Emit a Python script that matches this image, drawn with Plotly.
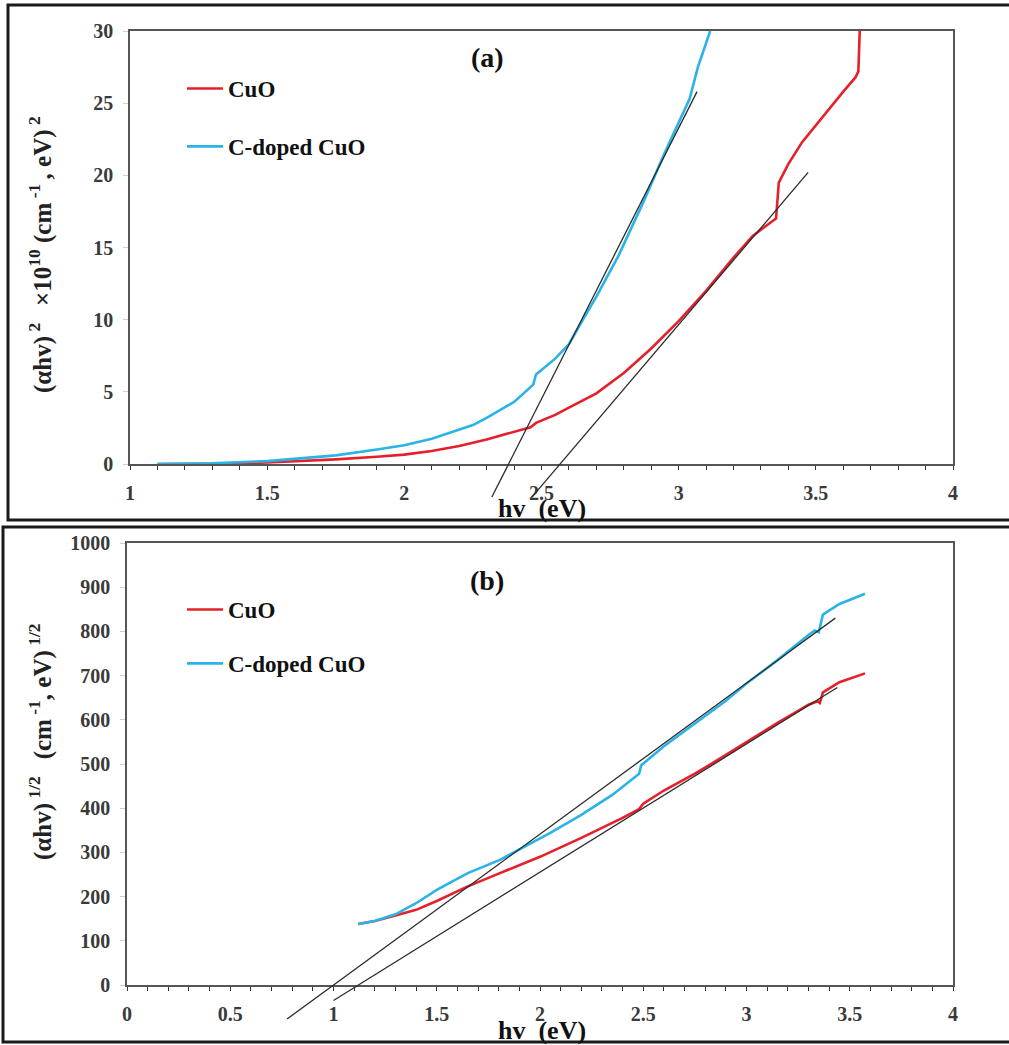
import plotly.graph_objects as go

# ---------------- data: panel (a)  (αhν)^2 ×10^10 vs hν ----------------
hv_cuo_a = [1.10, 1.30, 1.50, 1.60, 1.75, 1.90, 2.00, 2.10, 2.20, 2.30, 2.40, 2.46, 2.48,
            2.55, 2.60, 2.70, 2.80, 2.90, 3.00, 3.10, 3.20, 3.27, 3.34, 3.355, 3.365,
            3.40, 3.45, 3.505, 3.55, 3.60, 3.645, 3.655, 3.66]
val_cuo_a = [0.0, 0.02, 0.1, 0.18, 0.32, 0.5, 0.65, 0.9, 1.25, 1.7, 2.2, 2.55, 2.85,
             3.4, 3.9, 4.9, 6.3, 8.0, 9.9, 12.0, 14.3, 15.8, 16.8, 17.0, 19.5,
             20.8, 22.3, 23.6, 24.6, 25.8, 26.8, 27.2, 30.0]

hv_cdoped_a = [1.10, 1.30, 1.50, 1.60, 1.75, 1.90, 2.00, 2.10, 2.20, 2.25, 2.30, 2.40, 2.47,
               2.48, 2.55, 2.60, 2.66, 2.70, 2.78, 2.875, 2.95, 3.00, 3.04, 3.07, 3.115]
val_cdoped_a = [0.0, 0.05, 0.2, 0.35, 0.6, 1.0, 1.3, 1.75, 2.35, 2.7, 3.2, 4.3, 5.5,
                6.2, 7.3, 8.3, 10.3, 11.6, 14.4, 18.3, 21.6, 23.6, 25.3, 27.5, 30.0]

# linear extrapolations to the energy axis (panel a)
fit_cdoped_a_x = [2.319, 3.067]
fit_cdoped_a_y = [-2.29, 25.8]
fit_cuo_a_x = [2.465, 3.472]
fit_cuo_a_y = [-2.29, 20.2]

# ---------------- data: panel (b)  (αhν)^1/2 vs hν ----------------
hv_cuo_b = [1.12, 1.20, 1.30, 1.40, 1.50, 1.645, 1.80, 2.00, 2.20, 2.40, 2.48, 2.50,
            2.60, 2.75, 2.857, 3.00, 3.15, 3.25, 3.30, 3.345, 3.355, 3.37, 3.45, 3.574]
val_cuo_b = [138, 145, 157, 170, 190, 222, 252, 290, 333, 378, 398, 410,
             440, 478, 508, 550, 593, 620, 634, 642, 638, 662, 685, 705]

hv_cdoped_b = [1.12, 1.20, 1.30, 1.40, 1.50, 1.65, 1.806, 2.05, 2.20, 2.35, 2.48, 2.49,
               2.60, 2.75, 2.90, 3.00, 3.15, 3.30, 3.33, 3.35, 3.37, 3.45, 3.574]
val_cdoped_b = [138, 145, 160, 185, 215, 253, 283, 344, 385, 430, 478, 497,
                540, 592, 643, 682, 735, 792, 802, 798, 838, 862, 885]

# linear extrapolations to the energy axis (panel b)
fit_cdoped_b_x = [0.775, 3.43]
fit_cdoped_b_y = [-77, 830]
fit_cuo_b_x = [1.00, 3.44]
fit_cuo_b_y = [-35, 673]

x_ticks_a = [1, 1.5, 2, 2.5, 3, 3.5, 4]
x_ticks_b = [0, 0.5, 1, 1.5, 2, 2.5, 3, 3.5, 4]

RED = "#E5202B"
BLUE = "#2AB3E6"
FIT = "#2b2b2b"
SERIF = "Liberation Serif"

W, H = 1009, 1045


def px_x(p):
    return p / W


def px_y(p):
    return 1 - p / H


# plot-area boxes in page pixels (left, right, top, bottom)
box_a = (130, 953, 31, 464)
box_b = (127, 953, 543, 985)
ext = 45  # extra room below the axis for the extrapolation lines

fig = go.Figure()

# curves
fig.add_trace(go.Scatter(x=hv_cuo_a, y=val_cuo_a, mode="lines", name="CuO",
                         line=dict(color=RED, width=2.6), xaxis="x", yaxis="y",
                         legend="legend", legendgroup="a1"))
fig.add_trace(go.Scatter(x=hv_cdoped_a, y=val_cdoped_a, mode="lines", name="C-doped CuO",
                         line=dict(color=BLUE, width=2.6), xaxis="x", yaxis="y",
                         legend="legend", legendgroup="a2"))
fig.add_trace(go.Scatter(x=hv_cuo_b, y=val_cuo_b, mode="lines", name="CuO",
                         line=dict(color=RED, width=2.6), xaxis="x2", yaxis="y2",
                         legend="legend2", legendgroup="b1"))
fig.add_trace(go.Scatter(x=hv_cdoped_b, y=val_cdoped_b, mode="lines", name="C-doped CuO",
                         line=dict(color=BLUE, width=2.6), xaxis="x2", yaxis="y2",
                         legend="legend2", legendgroup="b2"))

# extrapolation lines live on companion axes whose domain reaches below the axis
for fx, fy in [(fit_cdoped_a_x, fit_cdoped_a_y), (fit_cuo_a_x, fit_cuo_a_y)]:
    fig.add_trace(go.Scatter(x=fx, y=fy, mode="lines", showlegend=False,
                             line=dict(color=FIT, width=1.3), xaxis="x3", yaxis="y3"))
for fx, fy in [(fit_cdoped_b_x, fit_cdoped_b_y), (fit_cuo_b_x, fit_cuo_b_y)]:
    fig.add_trace(go.Scatter(x=fx, y=fy, mode="lines", showlegend=False,
                             line=dict(color=FIT, width=1.3), xaxis="x4", yaxis="y4"))

tickfont = dict(family=SERIF, size=20, color="#3a3a3a", weight="bold")


def xaxis(box, rng, ticks):
    return dict(domain=[px_x(box[0]), px_x(box[1])], range=rng, tickvals=ticks,
                ticktext=[f"{t:g}" for t in ticks],
                showline=True, linecolor="#555555", linewidth=1.5, mirror=True,
                ticks="outside", ticklen=4, tickcolor="#333333", tickwidth=1.3,
                minor=dict(dtick=0.1, ticks="outside", ticklen=4, tickcolor="#333333",
                           tickwidth=1.3, showgrid=False),
                showgrid=False, zeroline=False, tickfont=tickfont, ticklabelstandoff=6)


def yaxis(box, rng, dtick, anchor):
    return dict(domain=[px_y(box[3]), px_y(box[2])], range=rng, dtick=dtick, anchor=anchor,
                showline=True, linecolor="#555555", linewidth=1.5, mirror=True,
                ticks="outside", ticklen=5, tickcolor="#cfcfcf", tickwidth=1,
                showgrid=False, zeroline=False, tickfont=tickfont, ticklabelstandoff=6)


def companion(box, yrng):
    span = box[3] - box[2]
    lo = yrng[0] - (yrng[1] - yrng[0]) * ext / span
    return dict(domain=[px_y(box[3] + ext), px_y(box[2])], range=[lo, yrng[1]], visible=False)


ya_rng = [0, 30]
yb_rng = [0, 1000]

legend_font = dict(family=SERIF, size=23, color="#111111", weight="bold")

fig.update_layout(
    width=W, height=H,
    margin=dict(l=0, r=0, t=0, b=0, autoexpand=False),
    paper_bgcolor="white", plot_bgcolor="rgba(0,0,0,0)",
    xaxis=dict(xaxis(box_a, [1, 4], x_ticks_a), anchor="y"),
    yaxis=yaxis(box_a, ya_rng, 5, "x"),
    xaxis2=dict(xaxis(box_b, [0, 4], x_ticks_b), anchor="y2"),
    yaxis2=yaxis(box_b, yb_rng, 100, "x2"),
    xaxis3=dict(domain=[px_x(box_a[0]), px_x(box_a[1])], range=[1, 4], anchor="y3", visible=False),
    yaxis3=dict(companion(box_a, ya_rng), anchor="x3"),
    xaxis4=dict(domain=[px_x(box_b[0]), px_x(box_b[1])], range=[0, 4], anchor="y4", visible=False),
    yaxis4=dict(companion(box_b, yb_rng), anchor="x4"),
    legend=dict(x=px_x(182), y=px_y(67), xanchor="left", yanchor="top",
                bgcolor="rgba(0,0,0,0)", tracegroupgap=25, itemwidth=36, font=legend_font),
    legend2=dict(x=px_x(182), y=px_y(588), xanchor="left", yanchor="top",
                 bgcolor="rgba(0,0,0,0)", tracegroupgap=21, itemwidth=36, font=legend_font),
    showlegend=True,
)

ann_font = dict(family=SERIF, color="#111111", weight="bold")
annotations = [
    dict(text="(a)", x=px_x(487), y=px_y(57), font=dict(ann_font, size=28)),
    dict(text="(b)", x=px_x(487), y=px_y(580), font=dict(ann_font, size=28)),
    dict(text="hv  (eV)", x=px_x(542), y=px_y(508), font=dict(ann_font, size=26)),
    dict(text="hv  (eV)", x=px_x(542), y=px_y(1030), font=dict(ann_font, size=26)),
    dict(text="(αhv)<sup> 2 </sup>  ×10<sup>10</sup> (cm<sup> -1 </sup>, eV)<sup> 2</sup>",
         x=px_x(40), y=px_y(255), textangle=-90, font=dict(ann_font, size=25, color="#222222")),
    dict(text="(αhv)<sup> 1/2 </sup>  (cm<sup> -1</sup>, eV)<sup> 1/2</sup>",
         x=px_x(40), y=px_y(742), textangle=-90, font=dict(ann_font, size=25, color="#222222")),
]
for a in annotations:
    a.update(xref="paper", yref="paper", showarrow=False, xanchor="center", yanchor="middle")
fig.update_layout(annotations=annotations)

# framing rectangles around each panel (right side runs past the page edge)
frames = [(8, 5, 1016, 520), (3, 527, 1016, 1042)]
shapes = []
for x0, y0, x1, y1 in frames:
    shapes.append(dict(type="rect", xref="paper", yref="paper",
                       x0=px_x(x0), x1=px_x(x1), y0=px_y(y1), y1=px_y(y0),
                       line=dict(color="#1a1a1a", width=3), layer="above"))
fig.update_layout(shapes=shapes)

fig.write_html("out.html")
